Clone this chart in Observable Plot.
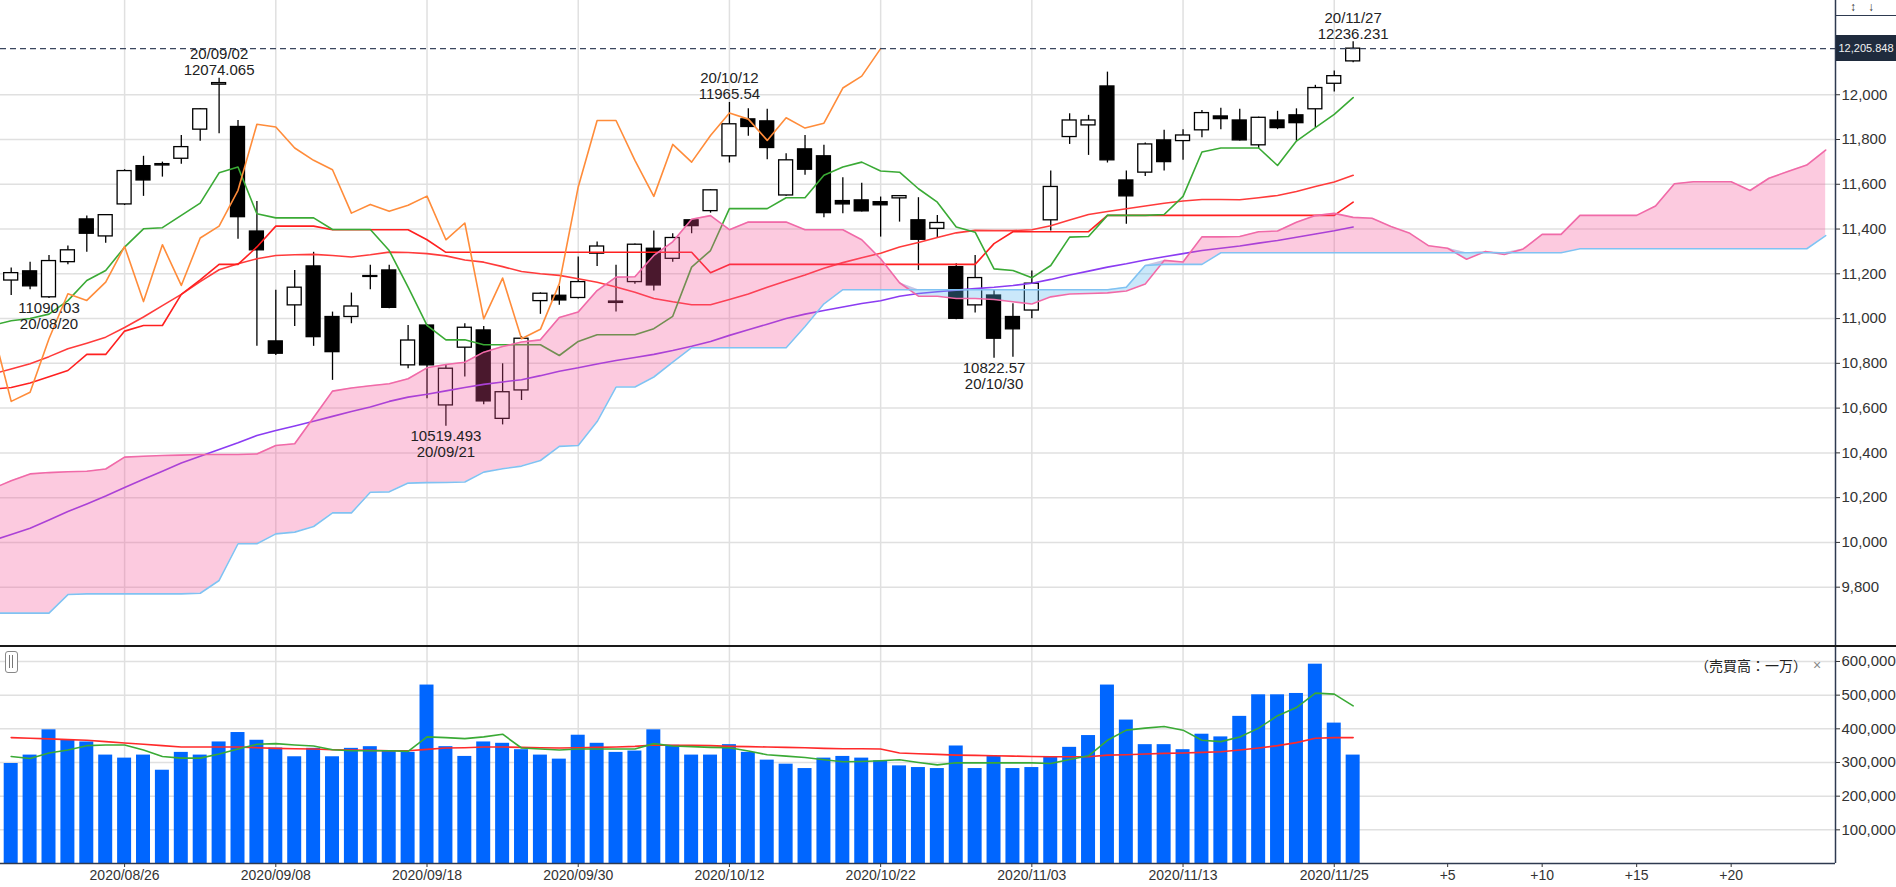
<!DOCTYPE html>
<html><head><meta charset="utf-8">
<script src="https://cdn.jsdelivr.net/npm/d3@7"></script>
<script src="https://cdn.jsdelivr.net/npm/@observablehq/plot@0.6"></script>
<style>
html,body{margin:0;padding:0;background:#fff;}
#wrap{position:relative;width:1896px;height:887px;overflow:hidden;font-family:"Liberation Sans",Arial,sans-serif;background:#fff;}
#price{position:absolute;left:0;top:0;}
#vol{position:absolute;left:0;top:646px;}
.abs{position:absolute;}
</style></head>
<body><div id="wrap"><div id="price"></div><div id="vol"></div></div>
<script>
// ---------- data ----------
const dates = ["2020/08/18","2020/08/19","2020/08/20","2020/08/21","2020/08/24","2020/08/25","2020/08/26","2020/08/27","2020/08/28","2020/08/31",
"2020/09/01","2020/09/02","2020/09/03","2020/09/04","2020/09/08","2020/09/09","2020/09/10","2020/09/11","2020/09/14","2020/09/15",
"2020/09/16","2020/09/17","2020/09/18","2020/09/21","2020/09/22","2020/09/23","2020/09/24","2020/09/25","2020/09/28","2020/09/29",
"2020/09/30","2020/10/01","2020/10/02","2020/10/05","2020/10/06","2020/10/07","2020/10/08","2020/10/09","2020/10/12","2020/10/13",
"2020/10/14","2020/10/15","2020/10/16","2020/10/19","2020/10/20","2020/10/21","2020/10/22","2020/10/23","2020/10/26","2020/10/27",
"2020/10/28","2020/10/29","2020/10/30","2020/11/02","2020/11/03","2020/11/04","2020/11/05","2020/11/06","2020/11/09","2020/11/10",
"2020/11/11","2020/11/12","2020/11/13","2020/11/16","2020/11/17","2020/11/18","2020/11/19","2020/11/20","2020/11/23","2020/11/24",
"2020/11/25","2020/11/27"];
const opens = [11170,11211,11095,11252,11443,11367,11510,11681,11684,11714,
11844,12045,11856,11389,10898,11059,11233,11007,11007,11186,
11215,10791,10969,10612,10870,10947,10552,10679,11078,11102,
11092,11290,11070,11163,11312,11267,11439,11480,11725,11890,
11881,11550,11756,11725,11525,11528,11520,11537,11439,11401,
11230,11059,11103,11007,11036,11439,11811,11863,12037,11617,
11652,11796,11793,11841,11903,11885,11774,11885,11908,11935,
12049,12149];
const highs = [11226,11252,11282,11324,11458,11465,11665,11725,11699,11818,
11937,12074.065,11885,11523,11126,11215,11296,11029,11114,11238,
11238,10969,10974,10790,10977,10965,10798,10920,11115,11144,
11275,11342,11238,11333,11391,11379,11442,11576,11965.54,11937,
11935,11736,11818,11774,11629,11605,11543,11549,11540,11461,
11245,11282,11126,11066,11212,11659,11915,11908,12101,11659,
11784,11841,11844,11930,11940,11935,11900,11926,11937,12042,
12106,12236.231];
const lows = [11103,11129,11090.03,11240,11296,11337,11505,11546,11632,11689,
11792,11826,11354,10876,10835,10965,10876,10724,10977,11129,
11044,10776,10642,10519.493,10739,10615,10525,10634,11019,11059,
11088,11233,11029,11153,11123,11252,11379,11471,11695,11814,
11710,11547,11640,11450,11468,11476,11364,11431,11215,11361,
10995,11025,10822.57,10827,10999,11391,11778,11729,11695,11421,
11635,11659,11707,11808,11844,11793,11759,11844,11793,11853,
12012,12143];
const closes = [11203,11144,11257,11305,11379,11462,11659,11617,11690,11766,
11935,12052,11453,11305,10843,11138,10917,10850,11054,11190,
11048,10902,10791,10776,10959,10630,10671,10910,11111,11081,
11163,11322,11076,11330,11148,11360,11413,11573,11868,11856,
11762,11707,11665,11471,11510,11479,11506,11547,11352,11427,
10999,11181,10910,10952,11156,11588,11885,11885,11707,11546,
11778,11699,11818,11918,11891,11796,11897,11851,11873,12030,
12083,12205.848];
const volumes = [297000,322000,397000,366000,361000,322000,313000,322000,277000,330000,
322000,361000,389000,366000,343000,317000,342000,317000,342000,347000,
335000,330000,530000,347000,318000,361000,357000,338000,322000,310000,
381000,357000,330000,334000,397000,351000,322000,322000,353000,330000,
307000,295000,282000,313000,318000,313000,305000,290000,285000,282000,
349000,282000,318000,282000,285000,315000,345000,380000,530000,426000,
353000,353000,338000,384000,376000,437000,501000,501000,505000,592000,
417000,322000];
const volMa5 = [318000,312000,328000,337000,350000,352000,352000,337000,318000,313000,
313000,325000,340000,354000,356000,352000,349000,338000,335000,335000,
335000,333000,376000,374000,371000,376000,384000,343000,340000,337000,
340000,340000,340000,340000,356000,349000,347000,345000,344000,334000,
323000,319000,315000,308000,302000,303000,305000,308000,300000,293000,
299000,299000,299000,299000,299000,297000,309000,320000,366000,396000,
402000,407000,396000,366000,362000,376000,402000,439000,463000,506000,
503000,468000];
const volMa25 = [374000,372000,370000,368000,366000,362000,358000,354000,350000,346000,
346000,346000,346000,344000,342000,341000,340000,338000,337000,336000,
335000,335000,339000,343000,344000,346000,346000,345000,344000,343000,
344000,345000,346000,348000,352000,351000,351000,350000,348000,347000,
346000,345000,344000,342000,341000,341000,340000,328000,326000,324000,
322000,321000,320000,319000,318000,317000,317000,317000,322000,323000,
325000,327000,328000,330000,332000,337000,343000,350000,359000,372000,
374000,374000];
// indicator lines: first value belongs to the period before 2020/08/18 (index -1)
const tenkan = [10970,10990,11000,11020,11080,11170,11215,11319,11401,11406,11461,
11516,11651,11677,11468,11450,11450,11450,11398,11398,11398,
11304,11141,10970,10905,10905,10883,10883,10883,10883,10835,
10898,10928,10928,10928,10955,11010,11230,11304,11491,11491,
11491,11540,11540,11640,11677,11699,11659,11654,11580,11520,
11409,11386,11222,11215,11182,11237,11364,11367,11461,11461,
11461,11465,11546,11744,11762,11762,11762,11684,11793,11853,
11912,11987];
const kijun = [10685,10692,10712,10740,10768,10840,10840,10944,10969,10969,11108,
11173,11242,11242,11320,11413,11413,11413,11397,11397,11397,
11397,11397,11352,11296,11296,11296,11296,11296,11296,11296,
11296,11296,11296,11296,11296,11296,11296,11205,11242,11242,
11242,11242,11242,11242,11242,11242,11242,11242,11242,11242,
11242,11242,11335,11388,11388,11388,11388,11388,11461,11461,
11461,11461,11461,11461,11461,11461,11461,11461,11461,11461,
11461,11520];
const ma25 = [10752,10775,10798,10830,10865,10890,10917,10960,11007,11058,11108,
11165,11218,11245,11267,11282,11285,11287,11282,11275,11285,
11297,11295,11290,11280,11262,11252,11232,11210,11200,11193,
11178,11162,11141,11118,11090,11075,11062,11062,11085,11110,
11140,11168,11195,11225,11250,11272,11292,11320,11340,11362,
11383,11394,11393,11393,11397,11415,11440,11465,11478,11491,
11503,11515,11525,11532,11532,11531,11540,11550,11568,11590,
11610,11640];
const ma75 = [10008,10035,10063,10100,10138,10172,10207,10245,10282,10318,10355,
10385,10415,10445,10478,10500,10520,10541,10563,10585,10605,
10630,10649,10662,10677,10692,10706,10717,10727,10745,10765,
10780,10797,10813,10826,10840,10857,10876,10898,10925,10950,
10975,11000,11020,11036,11052,11067,11080,11100,11112,11120,
11127,11134,11140,11148,11158,11175,11195,11212,11230,11245,
11262,11276,11290,11304,11314,11324,11337,11349,11363,11378,
11392,11409];
// cloud spans, index -1 .. 96 (26 periods ahead of the last candle)
const senkouA = [10240,10275,10306,10312,10316,10318,10328,10381,10385,10388,10390,
10393,10393,10393,10395,10433,10441,10558,10676,10690,10700,
10709,10731,10780,10795,10805,10850,10875,10895,10905,11005,
11029,11125,11185,11187,11282,11343,11444,11460,11397,11431,
11431,11431,11397,11397,11397,11352,11267,11160,11100,11100,
11090,11090,11085,11075,11065,11097,11110,11112,11115,11123,
11155,11260,11253,11365,11365,11367,11388,11391,11430,11460,
11470,11452,11448,11411,11381,11325,11314,11265,11300,11286,
11311,11376,11376,11461,11461,11461,11461,11503,11602,11611,
11611,11611,11572,11627,11657,11686,11753];
const senkouB = [9684,9684,9684,9684,9767,9770,9770,9770,9770,9770,9770,
9773,9830,9994,9994,10038,10046,10071,10132,10132,10224,
10226,10265,10267,10268,10270,10314,10329,10341,10366,10429,
10433,10540,10694,10694,10739,10805,10870,10870,10870,10870,
10870,10870,10965,11066,11129,11129,11129,11129,11129,11129,
11129,11129,11129,11129,11129,11129,11129,11129,11129,11140,
11237,11242,11242,11242,11294,11294,11294,11294,11294,11294,
11294,11294,11294,11294,11294,11294,11294,11294,11294,11294,
11294,11294,11294,11312,11312,11312,11312,11312,11312,11312,
11312,11312,11312,11312,11312,11312,11371];
const priceTicks = [9800,10000,10200,10400,10600,10800,11000,11200,11400,11600,11800,12000];
const volTicks = [100000,200000,300000,400000,500000,600000];
const xTickIdx = [6,14,22,30,38,46,54,62,70,76,81,86,91];
const xTickLabels = ["2020/08/26","2020/09/08","2020/09/18","2020/09/30","2020/10/12","2020/10/22","2020/11/03","2020/11/13","2020/11/25","+5","+10","+15","+20"];
const gridIdx = [6,14,22,30,38,46,54,62,70];
const highMarkIdx = [11,38,71];
const lowMarkIdx = [2,23,52];
const chikouShift = 25;
const lastClose = 12205.848;

// ---------- layout ----------
const W = 1896, FRAME_R = 1835;
const xDomain = [-0.566, 96.52];
const FONT = "'Liberation Sans', Arial, sans-serif";
const BODY = 0.37;
const GRID = "#e0e0e0";
const AXIS = "#2e3a50";

const lead = arr => arr.map((v, k) => ({i: k - 1, v}));
const candles = dates.map((d, i) => ({i, o: opens[i], h: highs[i], l: lows[i], c: closes[i], d}));
const chikou = closes.map((c, i) => ({i: i - chikouShift, v: c}));
const cloud = senkouA.map((a, k) => ({i: k - 1, a, b: senkouB[k]}));
const shortDate = s => s.slice(2);
const fmtC = d3.format(",");

const price = Plot.plot({
  width: W, height: 646,
  marginLeft: 0, marginRight: W - FRAME_R, marginTop: 0, marginBottom: 0,
  x: {type: "linear", domain: xDomain, axis: null},
  y: {domain: [9535, 12421], axis: null},
  style: {fontFamily: FONT, fontSize: "15px", color: "#333", background: "white", overflow: "visible"},
  marks: [
    Plot.ruleY(priceTicks, {stroke: GRID, strokeWidth: 1.5}),
    Plot.ruleX(gridIdx, {stroke: GRID, strokeWidth: 1.5}),
    // candles
    Plot.ruleX(candles, {x: "i", y1: "l", y2: "h", stroke: "#000", strokeWidth: 1.3}),
    Plot.rect(candles, {x1: d => d.i - BODY, x2: d => d.i + BODY, y1: "o", y2: "c",
      fill: d => d.c >= d.o ? "#fff" : "#000", stroke: "#000", strokeWidth: 1.3}),
    // indicator lines
    Plot.line(lead(ma75), {x: "i", y: "v", stroke: "#8b3cf2", strokeWidth: 1.6, clip: true}),
    Plot.line(lead(ma25), {x: "i", y: "v", stroke: "#ff3b3b", strokeWidth: 1.6, clip: true}),
    Plot.line(lead(kijun), {x: "i", y: "v", stroke: "#ff2020", strokeWidth: 1.6, clip: true}),
    Plot.line(lead(tenkan), {x: "i", y: "v", stroke: "#3aaa35", strokeWidth: 1.6, clip: true}),
    Plot.line(chikou, {x: "i", y: "v", stroke: "#ff8c3a", strokeWidth: 1.6, clip: true}),
    // cloud (semi-transparent, on top)
    Plot.areaY(cloud, {x: "i", y1: "b", y2: d => Math.max(d.a, d.b), fill: "rgb(245,80,150)", fillOpacity: 0.3, clip: true}),
    Plot.areaY(cloud, {x: "i", y1: "a", y2: d => Math.max(d.a, d.b), fill: "rgb(95,185,240)", fillOpacity: 0.33, clip: true}),
    Plot.line(cloud, {x: "i", y: "a", stroke: "#f06aa8", strokeWidth: 1.6, clip: true}),
    Plot.line(cloud, {x: "i", y: "b", stroke: "#80c2f2", strokeWidth: 1.6, clip: true}),
    // last price dashed line
    Plot.ruleY([lastClose], {stroke: "#3a465e", strokeWidth: 1.3, strokeDasharray: "6,4"}),
    // annotations
    Plot.text(highMarkIdx, {x: i => i, y: i => highs[i], text: i => shortDate(dates[i]) + "\n" + String(highs[i]),
      lineAnchor: "bottom", dy: -3, fontSize: 15, lineHeight: 1.07, fill: "#222"}),
    Plot.text(lowMarkIdx, {x: i => i, y: i => lows[i], text: i => String(lows[i]) + "\n" + shortDate(dates[i]),
      lineAnchor: "top", dy: 3, fontSize: 15, lineHeight: 1.07, fill: "#222"}),
    // axis
    Plot.axisY({anchor: "right", ticks: priceTicks, tickFormat: fmtC, tickSize: 4, tickPadding: 2, fontSize: 15, label: null}),
    Plot.ruleX([xDomain[1]], {stroke: AXIS, strokeWidth: 1.5})
  ]
});
document.getElementById("price").appendChild(price);

const volData = volumes.map((v, i) => ({i, v}));
const vol = Plot.plot({
  width: W, height: 241,
  marginLeft: 0, marginRight: W - FRAME_R, marginTop: 0, marginBottom: 24,
  x: {type: "linear", domain: xDomain, axis: null, label: null},
  y: {domain: [0, 644500], axis: null, label: null},
  style: {fontFamily: FONT, fontSize: "15px", color: "#333", background: "white", overflow: "visible"},
  marks: [
    Plot.ruleY(volTicks, {stroke: GRID, strokeWidth: 1.5}),
    Plot.ruleX(gridIdx, {stroke: GRID, strokeWidth: 1.5}),
    Plot.rectY(volData, {x1: d => d.i - BODY, x2: d => d.i + BODY, y: "v", fill: "#0066ff"}),
    Plot.line(volMa25.map((v, i) => ({i, v})), {x: "i", y: "v", stroke: "#ff2a2a", strokeWidth: 1.6}),
    Plot.line(volMa5.map((v, i) => ({i, v})), {x: "i", y: "v", stroke: "#3aaa35", strokeWidth: 1.6}),
    Plot.axisY({anchor: "right", ticks: volTicks, tickFormat: fmtC, tickSize: 4, tickPadding: 2, fontSize: 15, label: null}),
    Plot.axisX({anchor: "bottom", ticks: xTickIdx, tickFormat: d => xTickLabels[xTickIdx.indexOf(d)], tickSize: 4, tickPadding: 3, fontSize: 14, label: null}),
    Plot.ruleY([0], {stroke: AXIS, strokeWidth: 1.5}),
    Plot.ruleX([xDomain[1]], {stroke: AXIS, strokeWidth: 1.5})
  ]
});
document.getElementById("vol").appendChild(vol);

// ---------- overlays (text) ----------
const wrap = document.getElementById("wrap");
function add(html, css) { const el = document.createElement("div"); el.className = "abs"; el.innerHTML = html; el.style.cssText += css; wrap.appendChild(el); return el; }
const yTag = price.scale("y").apply(lastClose);
add("12,205.848", `left:${FRAME_R + 1}px;top:${yTag - 13}px;width:${W - FRAME_R - 1}px;height:26px;background:#1f2b3d;color:#f2f2f2;font-size:11px;line-height:26px;text-align:center;`);
add("", `left:${FRAME_R}px;top:15px;width:${W - FRAME_R}px;height:0;border-top:1.5px solid ${AXIS};`);
add("↕", `left:1850px;top:1px;font-size:12px;line-height:13px;color:#333;`);
add("↓", `left:1868px;top:1px;font-size:12px;line-height:13px;color:#333;`);
add("", `left:0;top:645px;width:${W}px;height:0;border-top:2px solid #1a1a1a;`);
add("", `left:5px;top:651px;width:11px;height:20px;border:1px solid #888;border-radius:3px;background:#fff;`);
add("", `left:9px;top:655px;width:1px;height:13px;background:#777;`);
add("", `left:12px;top:655px;width:1px;height:13px;background:#777;`);
add("（売買高：一万）", `left:1695px;top:656px;font-size:14px;color:#222;font-family:'Noto Sans CJK JP',sans-serif;line-height:18px;`);
add("×", `left:1813px;top:656px;font-size:14px;color:#888;line-height:18px;`);
</script>
</body></html>
